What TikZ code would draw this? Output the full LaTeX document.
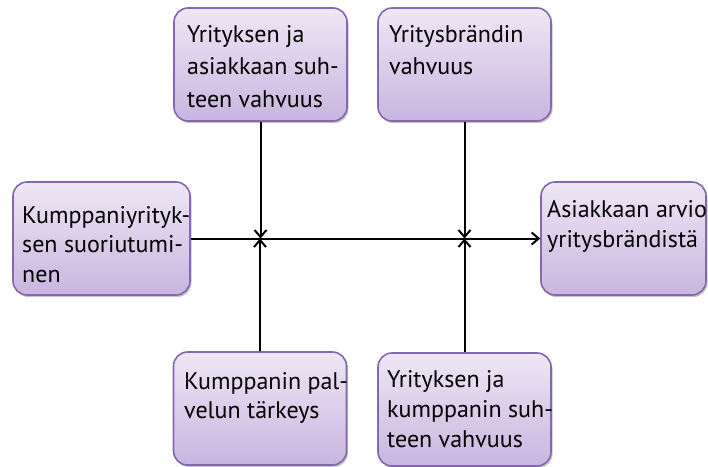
\documentclass[tikz,border=0pt]{standalone}
\usepackage{fontspec}
\setmainfont{PT Sans}
\usetikzlibrary{arrows.meta,shadows,shadings}
\definecolor{boxtop}{HTML}{EEE7F5}
\definecolor{boxbot}{HTML}{C9B5DF}
\definecolor{boxline}{HTML}{8467AE}
\tikzset{
  factor/.style={draw=boxline, line width=1.6pt, rounded corners=14pt,
    top color=boxtop, bottom color=boxbot,
    drop shadow={shadow xshift=1.5pt, shadow yshift=-2pt, fill=black!45, opacity=0.5},
    minimum width=173pt, minimum height=113pt, inner sep=0pt},
  % anchored at the baseline of the last line
  label text/.style={anchor=base west, align=left, inner sep=0pt,
    font=\fontsize{24}{31}\selectfont},
  link/.style={line width=2pt, -{Straight Barb[length=7pt,width=12pt,line width=2pt]}}
}
\begin{document}
\begin{tikzpicture}[x=1pt,y=-1pt]
\useasboundingbox (0,0) rectangle (708,466);
% boxes
\node[factor] (rel)   at (260.5,64.5) {};
\node[factor] (brand) at (464.5,64.5) {};
\node[factor, minimum width=177pt] (perf) at (101.5,238.5) {};
\node[factor, minimum width=165pt] (eval) at (623.5,238.5) {};
\node[factor] (imp)   at (260,408.5) {};
\node[factor] (part)  at (464.5,409.5) {};
% texts
\node[label text, font=\fontsize{24}{32.5}\selectfont] (relt)   at (187,107)  {Yrityksen ja\\asiakkaan suh-\\teen vahvuus};
\node[label text, font=\fontsize{24}{32.5}\selectfont] (brandt) at (389,74.5) {Yritysbrändin\\vahvuus};
\node[label text, font=\fontsize{24}{29.5}\selectfont] (perft)  at (22,282)   {Kumppaniyrityk-\\sen suoriutumi-\\nen};
\node[label text, font=\fontsize{24}{30}\selectfont]   (evalt)  at (547,247)  {Asiakkaan arvio\\yritysbrändistä};
\node[label text, font=\fontsize{24}{29}\selectfont]   (impt)   at (184,418)  {Kumppanin pal-\\velun tärkeys};
\node[label text, font=\fontsize{24}{30}\selectfont]   (partt)  at (387,447)  {Yrityksen ja\\kumppanin suh-\\teen vahvuus};
% connectors
\draw[link] (perf.east) -- (eval.west);
\coordinate (j1) at (rel.south |- perf.east);
\coordinate (j2) at (brand.south |- perf.east);
\draw[link] (rel.south) -- (j1);
\draw[link] (brand.south) -- (j2);
\draw[link] (imp.north) -- (imp.north |- j1);
\draw[link] (part.north) -- (part.north |- j2);
\end{tikzpicture}
\end{document}
